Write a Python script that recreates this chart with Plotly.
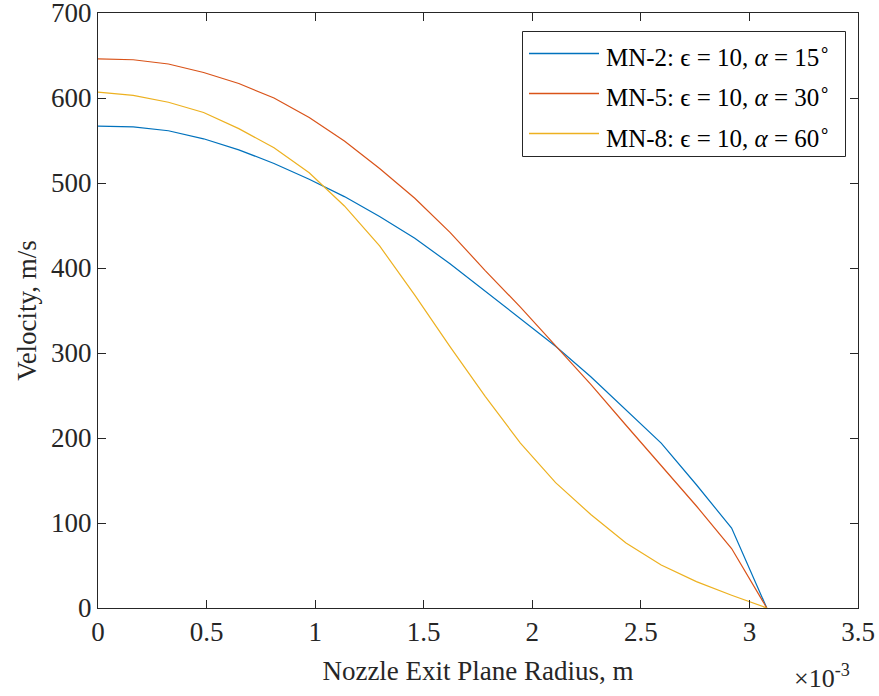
import plotly.graph_objects as go

# Radial stations across the nozzle exit plane (m)
radius = [i * 3.08e-3 / 19 for i in range(20)]

# Exit-plane velocity profiles (m/s)
v_mn2 = [567, 566, 561.5, 552, 539, 523, 504.5, 484, 460.5, 435,
         405, 373, 341, 308, 272, 233, 194, 145, 94, 0]
v_mn5 = [646, 645, 640, 630, 617, 600, 577, 549.5, 517, 482,
         442, 397, 354, 308, 263, 215, 167, 120, 70, 0]
v_mn8 = [607, 603, 595, 583, 564, 541.5, 512, 473, 426, 368,
         307.5, 249, 194, 147.5, 110, 76.5, 50.5, 31, 15, 0]

names = [
    "MN-2: ϵ = 10, <i>α</i> = 15<sup>∘</sup>",
    "MN-5: ϵ = 10, <i>α</i> = 30<sup>∘</sup>",
    "MN-8: ϵ = 10, <i>α</i> = 60<sup>∘</sup>",
]
colors = ["#0072BD", "#D95319", "#EDB120"]

x_ticks = [0, 0.5e-3, 1e-3, 1.5e-3, 2e-3, 2.5e-3, 3e-3, 3.5e-3]
x_tick_text = ["0", "0.5", "1", "1.5", "2", "2.5", "3", "3.5"]
y_ticks = [0, 100, 200, 300, 400, 500, 600, 700]

FONT = "Liberation Serif"
INK = "#262626"
W, H = 879, 696
ML, MR, MT, MB = 98, 21, 13, 88
PW, PH = W - ML - MR, H - MT - MB


def px(x):
    """Horizontal pixel -> paper fraction."""
    return (x - ML) / PW


def py(y):
    """Vertical pixel (from top) -> paper fraction."""
    return (H - MB - y) / PH


fig = go.Figure()
for v, name, c in zip([v_mn2, v_mn5, v_mn8], names, colors):
    fig.add_trace(go.Scatter(x=radius, y=v, mode="lines", name=name,
                             line=dict(color=c, width=1.2), showlegend=False))

axis_common = dict(
    showline=True, linecolor=INK, linewidth=1, mirror="ticks",
    ticks="inside", ticklen=8, tickcolor=INK, tickwidth=1,
    showgrid=False, zeroline=False, ticklabeloverflow="allow",
    automargin=False,
    tickfont=dict(family=FONT, size=27, color=INK),
)

fig.update_layout(
    width=W, height=H,
    margin=dict(l=ML, r=MR, t=MT, b=MB, autoexpand=False),
    paper_bgcolor="white", plot_bgcolor="white",
    font=dict(family=FONT, size=27, color=INK),
    xaxis=dict(
        range=[0, 3.5e-3], tickvals=x_ticks, ticktext=x_tick_text,
        title=dict(text="Nozzle Exit Plane Radius, m", standoff=14,
                   font=dict(family=FONT, size=27, color=INK)),
        **axis_common,
    ),
    yaxis=dict(
        range=[0, 700], tickvals=y_ticks,
        title=dict(text="Velocity, m/s", standoff=6,
                   font=dict(family=FONT, size=27, color=INK)),
        **axis_common,
    ),
)

# Legend box with line samples and labels
box_l, box_r, box_t, box_b = 522.5, 845.5, 31.5, 156.5
fig.add_shape(type="rect", xref="paper", yref="paper",
              x0=px(box_l), x1=px(box_r), y0=py(box_b), y1=py(box_t),
              line=dict(color=INK, width=1), fillcolor="white", layer="above")
row_y = [53.5, 93.5, 133.5]
for ry, name, c in zip(row_y, names, colors):
    fig.add_shape(type="line", xref="paper", yref="paper",
                  x0=px(529), x1=px(599), y0=py(ry), y1=py(ry),
                  line=dict(color=c, width=1.5), layer="above")
    fig.add_annotation(text=name, xref="paper", yref="paper",
                       x=px(604), y=py(ry + 2), xanchor="left", yanchor="middle",
                       showarrow=False,
                       font=dict(family=FONT, size=25, color="black"))

# Axis exponent label
fig.add_annotation(
    text="×10<sup>-3</sup>", xref="paper", yref="paper",
    x=px(852), y=py(676), xanchor="right", yanchor="middle", showarrow=False,
    font=dict(family=FONT, size=26, color=INK),
)

fig.write_html("out.html")
